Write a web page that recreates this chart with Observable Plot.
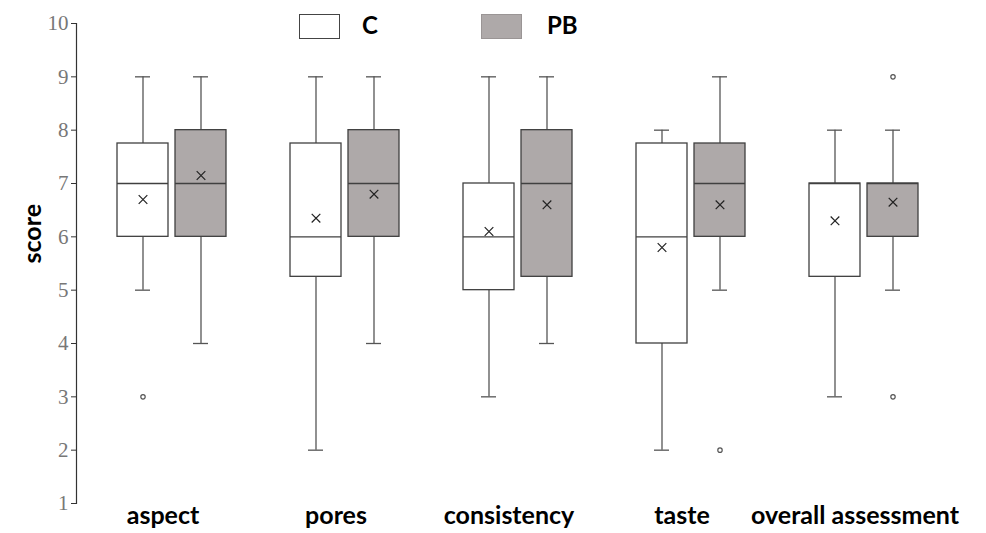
<!DOCTYPE html>
<html>
<head>
<meta charset="utf-8">
<script src="https://cdn.jsdelivr.net/npm/d3@7"></script>
<script src="https://cdn.jsdelivr.net/npm/@observablehq/plot@0.6"></script>
<style>
  html, body { margin: 0; padding: 0; background: #fff; }
  #wrap { position: relative; width: 986px; height: 533px; }
  .leg { position: absolute; font: bold 24px Lato, sans-serif; color: #000; }
  .legbox { position: absolute; box-sizing: border-box; width: 41px; height: 25px; }
  g[aria-label="y-axis tick label"] text { font-family: "Liberation Serif", serif; font-size: 21px; fill: #777; }
  g[aria-label="fx-axis tick label"] text { font-family: Lato, sans-serif; font-weight: bold; font-size: 25px; fill: #000; }
</style>
</head>
<body>
<div id="wrap"></div>
<script>
const categories = ["aspect", "pores", "consistency", "taste", "overall assessment"];
const groups = ["C", "PB"];
const yTicks = [1, 2, 3, 4, 5, 6, 7, 8, 9, 10];

const cMin  = [5, 2, 3, 2, 3];
const cQ1   = [6, 5.25, 5, 4, 5.25];
const cMed  = [7, 6, 6, 6, 7];
const cQ3   = [7.75, 7.75, 7, 7.75, 7];
const cMax  = [9, 9, 9, 8, 8];
const cMean = [6.7, 6.35, 6.1, 5.8, 6.3];

const pbMin  = [4, 4, 4, 5, 5];
const pbQ1   = [6, 6, 5.25, 6, 6];
const pbMed  = [7, 7, 7, 7, 7];
const pbQ3   = [8, 8, 8, 7.75, 7];
const pbMax  = [9, 9, 9, 9, 8];
const pbMean = [7.15, 6.8, 6.6, 6.6, 6.65];

const outlierCat   = ["aspect", "taste", "overall assessment", "overall assessment"];
const outlierGroup = ["C", "PB", "PB", "PB"];
const outlierValue = [3, 2, 3, 9];

const stats = [];
categories.forEach((cat, i) => {
  stats.push({cat, group: "C", min: cMin[i], q1: cQ1[i], med: cMed[i], q3: cQ3[i], max: cMax[i], mean: cMean[i]});
  stats.push({cat, group: "PB", min: pbMin[i], q1: pbQ1[i], med: pbMed[i], q3: pbQ3[i], max: pbMax[i], mean: pbMean[i]});
});
const outliers = outlierValue.map((v, i) => ({cat: outlierCat[i], group: outlierGroup[i], v}));

const fillColors = ["#ffffff", "#aea9a9"];
const whisk = "#555";
const boxStroke = "#404040";

const chart = Plot.plot({
  width: 986,
  height: 533,
  marginLeft: 75,
  marginRight: 43.5,
  marginTop: 23,
  marginBottom: 30,
  style: {fontFamily: "Lato, sans-serif", background: "#fff"},
  fx: {domain: categories, padding: 0, label: null},
  x: {domain: groups, paddingInner: 0.119, paddingOuter: 0.53, align: 0.64, axis: null},
  y: {domain: [1, 10], label: null},
  color: {domain: groups, range: fillColors},
  marks: [
    Plot.frame({anchor: "left", stroke: "#333", strokeWidth: 1.2, facetAnchor: "left"}),
    Plot.axisY({ticks: yTicks, tickSize: 5, tickPadding: 3, stroke: "#333", label: null}),
    Plot.axisFx({anchor: "bottom", tickSize: 0, tickPadding: 3, label: null}),
    Plot.ruleX(stats, {fx: "cat", x: "group", y1: "min", y2: "q1", stroke: whisk, strokeWidth: 1.3}),
    Plot.ruleX(stats, {fx: "cat", x: "group", y1: "q3", y2: "max", stroke: whisk, strokeWidth: 1.3}),
    Plot.tickY(stats, {fx: "cat", x: "group", y: "min", stroke: whisk, strokeWidth: 1.3, insetLeft: 18, insetRight: 18}),
    Plot.tickY(stats, {fx: "cat", x: "group", y: "max", stroke: whisk, strokeWidth: 1.3, insetLeft: 18, insetRight: 18}),
    Plot.barY(stats, {fx: "cat", x: "group", y1: "q1", y2: "q3", fill: "group", stroke: boxStroke, strokeWidth: 1.3}),
    Plot.tickY(stats, {fx: "cat", x: "group", y: "med", stroke: boxStroke, strokeWidth: 1.3}),
    Plot.dot(stats, {fx: "cat", x: "group", y: "mean", symbol: "times", r: 4, stroke: "#222", strokeWidth: 1.2}),
    Plot.dot(outliers, {fx: "cat", x: "group", y: "v", r: 2.2, stroke: "#555", strokeWidth: 1.2, fill: "#fff"}),
    Plot.text(["score"], {frameAnchor: "left", dx: -44, rotate: -90, fontSize: 25, fontWeight: "bold", fill: "#000", facetAnchor: "left"})
  ]
});

const wrap = document.getElementById("wrap");
wrap.appendChild(chart);

const legendItems = [
  {label: groups[0], fill: fillColors[0], border: "#444", boxX: 299, textX: 362},
  {label: groups[1], fill: fillColors[1], border: "#9a9595", boxX: 481, textX: 547}
];
for (const it of legendItems) {
  const b = document.createElement("div");
  b.className = "legbox";
  b.style.left = it.boxX + "px";
  b.style.top = "14px";
  b.style.background = it.fill;
  b.style.border = "1.5px solid " + it.border;
  wrap.appendChild(b);
  const t = document.createElement("div");
  t.className = "leg";
  t.style.left = it.textX + "px";
  t.style.top = "10px";
  t.textContent = it.label;
  wrap.appendChild(t);
}
</script>
</body>
</html>
